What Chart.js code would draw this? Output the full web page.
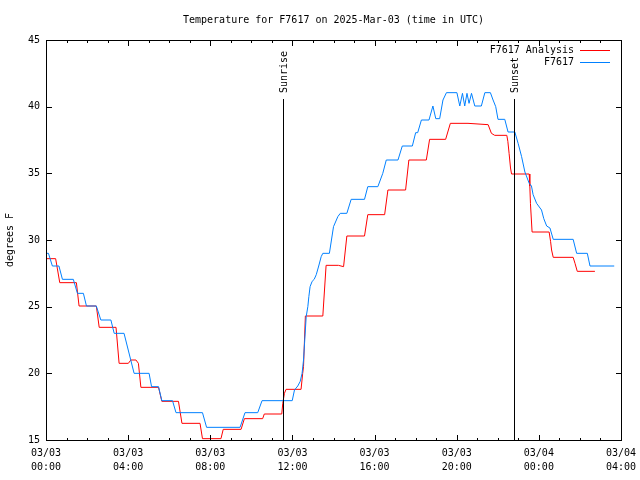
<!DOCTYPE html>
<html>
<head>
<meta charset="utf-8">
<script src="https://cdn.jsdelivr.net/npm/chart.js@4.4.1/dist/chart.umd.min.js"></script>
<style>
  html, body { margin: 0; padding: 0; background: #fff; }
  #wrap { width: 640px; height: 480px; }
</style>
</head>
<body>
<div id="wrap"><canvas id="tempChart" width="640" height="480"></canvas></div>
<script>
const chartTitle = 'Temperature for F7617 on 2025-Mar-03 (time in UTC)';
const yAxisTitle = 'degrees F';
const monoFont = "'DejaVu Sans Mono', 'Liberation Mono', monospace";

// x values are hours since 2025-03-03 00:00 UTC
const analysisHours = [0, 0.47, 0.67, 1.48, 1.61, 2.45, 2.59, 3.41, 3.56, 4.01, 4.13, 4.38, 4.5, 4.62,
  5.48, 5.64, 6.45, 6.62, 7.5, 7.62, 8.52, 8.63, 9.5, 9.66, 10.55, 10.63, 11.48, 11.53, 11.61, 11.69,
  12.42, 12.5, 12.54, 12.63, 13.48, 13.64, 14.24, 14.49, 14.65, 15.51, 15.67, 16.49, 16.65, 17.51,
  17.67, 18.52, 18.68, 19.46, 19.69, 20.55, 21.53, 21.69, 21.85, 22.44, 22.49, 22.55, 22.62, 22.67,
  23.53, 23.56, 23.59, 23.67, 24.5, 24.57, 24.62, 24.7, 25.67, 25.76, 25.87, 26.73];
const analysisTemps = [28.6, 28.6, 26.8, 26.8, 25.05, 25.05, 23.45, 23.45, 20.75, 20.75, 21.0, 21.0, 20.75, 18.95,
  18.95, 17.9, 17.9, 16.25, 16.25, 15.1, 15.1, 15.8, 15.8, 16.6, 16.6, 16.95, 16.95, 17.75, 18.5, 18.8,
  18.8, 20.0, 20.5, 24.3, 24.3, 28.1, 28.1, 28.0, 30.3, 30.3, 31.9, 31.9, 33.75, 33.75,
  36.0, 36.0, 37.55, 37.55, 38.75, 38.75, 38.65, 38.0, 37.85, 37.85, 37.4, 36.5, 35.4, 34.95,
  34.95, 34.05, 32.75, 30.6, 30.6, 29.9, 29.25, 28.7, 28.7, 28.25, 27.65, 27.65];

const stationHours = [0, 0.12, 0.31, 0.63, 0.8, 1.33, 1.53, 1.82, 1.97, 2.45, 2.67, 3.16, 3.32, 3.8,
  4.29, 5.02, 5.14, 5.48, 5.64, 6.16, 6.33, 7.62, 7.82, 9.45, 9.69, 10.31, 10.52, 11.99,
  12.1, 12.26, 12.38, 12.47, 12.54, 12.59, 12.67, 12.75, 12.8, 12.86, 12.96, 13.06, 13.16, 13.28,
  13.4, 13.48, 13.8, 14.0, 14.21, 14.33, 14.65, 14.86, 15.51, 15.67, 16.16, 16.4, 16.57, 17.14,
  17.35, 17.84, 18.0, 18.1, 18.28, 18.65, 18.84, 18.98, 19.17, 19.33, 19.5, 20.01, 20.15, 20.28,
  20.39, 20.5, 20.6, 20.72, 20.88, 21.2, 21.37, 21.64, 21.77, 21.9, 22.01, 22.34, 22.5, 22.83,
  22.99, 23.16, 23.32, 23.53, 23.64, 23.72, 23.89, 24.13, 24.24, 24.38, 24.54, 24.7, 25.67, 25.84,
  26.36, 26.49, 27.67];
const stationTemps = [29.0, 29.0, 28.05, 28.05, 27.05, 27.05, 26.0, 26.0, 25.05, 25.05, 24.0, 24.0, 23.0, 23.0,
  20.0, 20.0, 19.0, 19.0, 17.95, 17.95, 17.05, 17.05, 15.95, 15.95, 17.05, 17.05, 17.95, 17.95,
  18.75, 19.05, 19.4, 20.0, 21.0, 22.25, 24.25, 25.0, 25.75, 26.5, 26.9, 27.05, 27.4, 28.05,
  28.75, 29.0, 29.0, 31.0, 31.75, 32.0, 32.0, 33.05, 33.05, 34.0, 34.0, 35.0, 36.0, 36.0,
  37.05, 37.05, 38.05, 38.05, 39.0, 39.0, 40.05, 39.1, 39.1, 40.5, 41.05, 41.05, 40.05, 41.0,
  40.05, 41.0, 40.25, 41.0, 40.05, 40.05, 41.05, 41.05, 40.5, 40.0, 39.05, 39.05, 38.1, 38.1,
  37.25, 36.25, 35.1, 34.25, 34.05, 33.4, 32.75, 32.25, 31.6, 31.05, 30.9, 30.05, 30.05, 29.0,
  29.0, 28.05, 28.05];

const xTickDays = ['03/03', '03/03', '03/03', '03/03', '03/03', '03/03', '03/04', '03/04'];
const xTickTimes = ['00:00', '04:00', '08:00', '12:00', '16:00', '20:00', '00:00', '04:00'];
const yTicks = [15, 20, 25, 30, 35, 40, 45];

const eventNames = ['Sunrise', 'Sunset'];
const eventHours = [11.53, 22.8];

function toPoints(xs, ys) {
    return xs.map((x, i) => ({ x: x, y: ys[i] }));
}

// gnuplot look: boxed plot, inward ticks, sun lines, key and titles
const gnuplotFrame = {
    id: 'gnuplotFrame',
    afterDraw(chart) {
        const { ctx, chartArea } = chart;
        const { left, right, top, bottom } = chartArea;
        const xs = chart.scales.x, ys = chart.scales.y;
        ctx.save();
        ctx.strokeStyle = '#000';
        ctx.fillStyle = '#000';
        ctx.lineWidth = 1;

        // sunrise / sunset
        ctx.font = '10px ' + monoFont;
        eventHours.forEach((h, i) => {
            const px = Math.round(xs.getPixelForValue(h)) + 0.5;
            ctx.beginPath();
            ctx.moveTo(px, bottom);
            ctx.lineTo(px, top + 59);
            ctx.stroke();
            ctx.save();
            ctx.translate(px + 1, top + 53);
            ctx.rotate(-Math.PI / 2);
            ctx.textAlign = 'left';
            ctx.textBaseline = 'middle';
            ctx.fillText(eventNames[i], 0, 0);
            ctx.restore();
        });

        // frame
        ctx.strokeRect(left + 0.5, top + 0.5, right - left, bottom - top);

        // ticks
        ctx.beginPath();
        yTicks.forEach(v => {
            const py = Math.round(ys.getPixelForValue(v)) + 0.5;
            ctx.moveTo(left, py); ctx.lineTo(left + 6, py);
            ctx.moveTo(right + 1, py); ctx.lineTo(right - 5, py);
        });
        for (let h = 0; h <= 28; h++) {
            const px = Math.round(xs.getPixelForValue(h)) + 0.5;
            const len = h % 4 === 0 ? 6 : 3;
            ctx.moveTo(px, bottom + 1); ctx.lineTo(px, bottom + 1 - len);
            ctx.moveTo(px, top); ctx.lineTo(px, top + len);
        }
        ctx.stroke();

        // key
        ctx.textAlign = 'right';
        ctx.textBaseline = 'middle';
        chart.data.datasets.forEach((ds, i) => {
            const ry = top + 10 + i * 12;
            ctx.fillStyle = '#000';
            ctx.fillText(ds.label, right - 47, ry);
            ctx.strokeStyle = ds.borderColor;
            ctx.beginPath();
            ctx.moveTo(right - 41, ry + 0.5);
            ctx.lineTo(right - 11, ry + 0.5);
            ctx.stroke();
        });

        // titles
        ctx.fillStyle = '#000';
        ctx.textAlign = 'center';
        ctx.fillText(chartTitle, (left + right) / 2, 20);
        ctx.save();
        ctx.translate(10, (top + bottom) / 2);
        ctx.rotate(-Math.PI / 2);
        ctx.fillText(yAxisTitle, 0, 0);
        ctx.restore();
        ctx.restore();
    }
};

new Chart(document.getElementById('tempChart'), {
    type: 'line',
    data: {
        datasets: [{
            label: 'F7617 Analysis',
            data: toPoints(analysisHours, analysisTemps),
            borderColor: '#ff0000',
            borderWidth: 1,
            pointRadius: 0,
            tension: 0,
            fill: false,
            order: 1
        }, {
            label: 'F7617',
            data: toPoints(stationHours, stationTemps),
            borderColor: '#0080ff',
            borderWidth: 1,
            pointRadius: 0,
            tension: 0,
            fill: false,
            order: 0
        }]
    },
    options: {
        responsive: false,
        animation: false,
        layout: { padding: { top: 40, right: 19, left: 0, bottom: 0 } },
        plugins: { legend: { display: false }, tooltip: { enabled: false }, title: { display: false } },
        scales: {
            x: {
                type: 'linear',
                min: 0, max: 28,
                grid: { display: false, drawTicks: false },
                border: { display: false },
                afterFit: s => { s.height = 40; s.paddingLeft = 0; s.paddingRight = 0; },
                ticks: {
                    stepSize: 4,
                    padding: 6,
                    maxRotation: 0,
                    color: '#000',
                    font: { family: monoFont, size: 10, lineHeight: 1.4 },
                    callback: (v) => {
                        const i = Math.round(v / 4);
                        return [xTickDays[i], xTickTimes[i]];
                    }
                }
            },
            y: {
                min: 15, max: 45,
                grid: { display: false, drawTicks: false },
                border: { display: false },
                afterFit: s => { s.width = 46; s.paddingTop = 0; s.paddingBottom = 0; },
                ticks: {
                    stepSize: 5,
                    padding: 6,
                    color: '#000',
                    font: { family: monoFont, size: 10 }
                }
            }
        }
    },
    plugins: [gnuplotFrame]
});
</script>
</body>
</html>
